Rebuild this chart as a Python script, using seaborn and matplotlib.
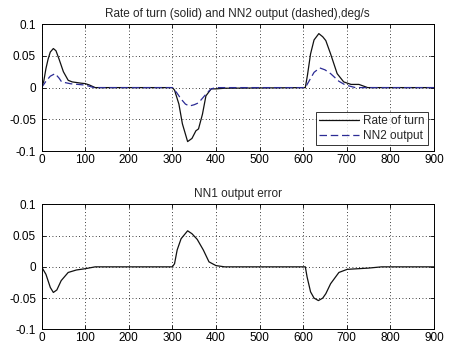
import numpy as np
import pandas as pd
import matplotlib
matplotlib.use('Agg')
import matplotlib.pyplot as plt
import seaborn as sns

# datos
t_rate = [0, 5, 10, 15, 20, 27, 33, 40, 50, 61, 70, 80, 90, 100, 110, 123,
          300, 305, 315, 323, 335, 345, 354, 360, 369, 377, 389, 400, 420,
          605, 610, 617, 625, 636, 645, 652, 663, 678, 693, 710, 728, 748, 900]
rate = [0, 0.01, 0.03, 0.045, 0.056, 0.0615, 0.058, 0.045, 0.025, 0.0115, 0.009, 0.008, 0.007, 0.0063, 0.004, 0,
        0, -0.004, -0.026, -0.057, -0.085, -0.08, -0.068, -0.065, -0.042, -0.013, -0.002, -0.002, -0.001,
        0, 0.02, 0.053, 0.075, 0.085, 0.08, 0.074, 0.053, 0.022, 0.009, 0.005, 0.005, 0, 0]

t_nn2 = [0, 10, 20, 31, 40, 46, 67, 100, 120,
         300, 310, 320, 330, 339, 350, 360, 370, 380, 389, 400,
         605, 615, 625, 638, 650, 663, 682, 697, 720, 900]
nn2 = [0, 0.01, 0.018, 0.022, 0.015, 0.009, 0.006, 0.004, 0,
       0, -0.008, -0.018, -0.026, -0.029, -0.027, -0.024, -0.016, -0.008, -0.002, 0,
       0, 0.012, 0.024, 0.031, 0.028, 0.022, 0.010, 0.004, 0, 0]

t_err = [0, 10, 20, 27, 35, 45, 61, 80, 100, 123,
         300, 305, 311, 320, 335, 345, 357, 371, 384, 400, 420,
         605, 609, 617, 625, 635, 645, 652, 663, 682, 701, 750, 780, 900]
err = [0, -0.012, -0.033, -0.041, -0.037, -0.022, -0.009, -0.005, -0.003, 0,
       0, 0.005, 0.027, 0.045, 0.0577, 0.053, 0.044, 0.027, 0.008, 0.002, 0.0,
       0, -0.016, -0.04, -0.05, -0.054, -0.05, -0.043, -0.027, -0.009, -0.004, -0.002, 0, 0]

x_ticks = [0, 100, 200, 300, 400, 500, 600, 700, 800, 900]
y_ticks = [-0.1, -0.05, 0, 0.05, 0.1]
y_labels = ['-0.1', '-0.05', '0', '0.05', '0.1']

sns.set_style('white')
plt.rcParams['font.family'] = ['Liberation Sans', 'DejaVu Sans']
plt.rcParams['axes.unicode_minus'] = False

fs = 8.5

fig = plt.figure(figsize=(4.52, 3.49), dpi=100)
ax1 = fig.add_axes([0.092, 0.567, 0.868, 0.364])
ax2 = fig.add_axes([0.092, 0.0564, 0.868, 0.358])

sns.lineplot(x=t_rate, y=rate, ax=ax1, color='#111111', lw=0.9, sort=False,
             estimator=None, label='Rate of turn')
sns.lineplot(x=t_nn2, y=nn2, ax=ax1, color='#2b2b95', lw=0.9, sort=False,
             estimator=None, label='NN2 output', dashes=False)
ax1.lines[1].set_linestyle((0, (6, 3)))
sns.lineplot(x=t_err, y=err, ax=ax2, color='#111111', lw=0.9, sort=False,
             estimator=None)

for ax in (ax1, ax2):
    ax.set_xlim(0, 900)
    ax.set_ylim(-0.1, 0.1)
    ax.set_xticks(x_ticks)
    ax.set_xticklabels([str(v) for v in x_ticks])
    ax.set_yticks(y_ticks)
    ax.set_yticklabels(y_labels)
    ax.grid(True, color='black', linestyle=(0, (1, 3)), linewidth=0.6)
    ax.tick_params(direction='in', length=3, width=0.6, labelsize=fs,
                   colors='black', pad=2)
    ax.tick_params(axis='y', pad=4)
    ax.tick_params(top=True, right=True, bottom=True, left=True)
    for s in ax.spines.values():
        s.set_color('black')
        s.set_linewidth(0.7)
    ax.set_xlabel('')
    ax.set_ylabel('')

ax1.set_title('Rate of turn (solid) and NN2 output (dashed),deg/s', fontsize=fs, pad=5)
ax2.set_title('NN1 output error', fontsize=fs, pad=5)

leg = ax1.legend(loc='lower right', fontsize=fs, handlelength=3.4, frameon=True,
                 fancybox=False, borderaxespad=0.5, handletextpad=0.3,
                 labelspacing=0.2, borderpad=0.3)
leg.get_frame().set_edgecolor('black')
leg.get_frame().set_linewidth(0.7)

fig.savefig('out.png', dpi=100)
